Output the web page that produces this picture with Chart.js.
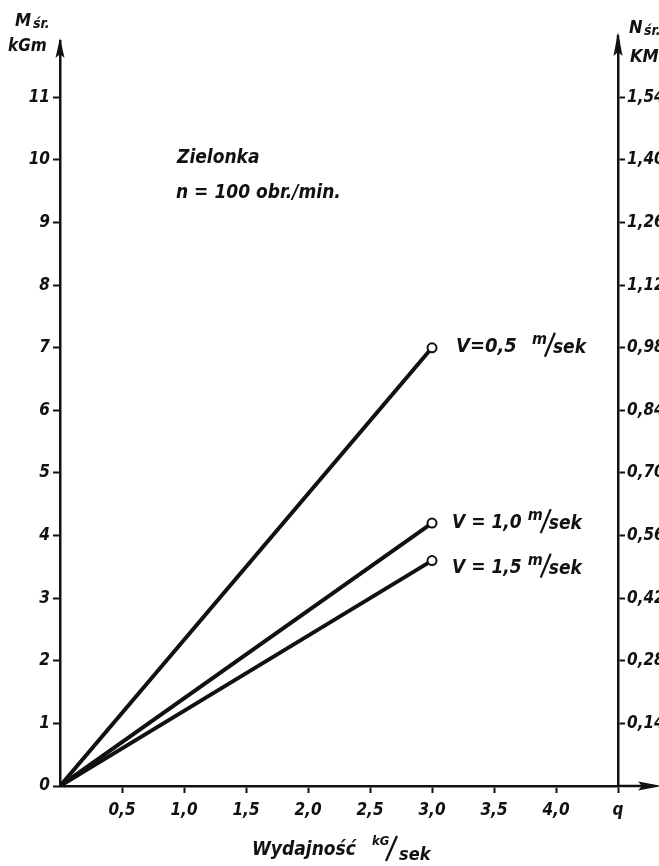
<!DOCTYPE html>
<html>
<head>
<meta charset="utf-8">
<script src="https://cdn.jsdelivr.net/npm/chart.js@4"></script>
<style>
  html, body { margin: 0; padding: 0; background: #fff; overflow: hidden; width: 659px; height: 866px; }
  #wrap { position: absolute; left: 0; top: 0; width: 684px; height: 866px; }
</style>
</head>
<body>
<div id="wrap"><canvas id="c" width="684" height="866"></canvas></div>
<script>
// Throughput q [kG/sek] at which torque was measured
const throughput = [0, 3.0];
// Mean torque M_śr [kGm] for each feed speed V
const torqueV05 = [0, 7.0];
const torqueV10 = [0, 4.2];
const torqueV15 = [0, 3.6];
const speedLabels = ['V=0,5', 'V = 1,0', 'V = 1,5'];
// Power scale: 1 kGm of torque at n = 100 obr./min corresponds to 0.14 KM
const powerPerTorque = 0.14;

const INK = '#111';
const FAMILY = '"DejaVu Sans Condensed", "Liberation Sans Narrow", "DejaVu Sans", sans-serif';
const font = (size) => `italic bold ${size}px ${FAMILY}`;
const comma = (v, d) => v.toFixed(d).replace('.', ',');

const Y_MAX = 11.9;

function series(values) {
  return throughput.map((q, i) => ({ x: q, y: values[i] }));
}

function lineDataset(values) {
  return {
    data: series(values),
    borderColor: INK,
    borderWidth: 4,
    borderCapStyle: 'round',
    pointRadius: [0, 4.5],
    pointHoverRadius: [0, 4.5],
    pointBackgroundColor: '#fff',
    pointBorderColor: INK,
    pointBorderWidth: 2,
    tension: 0
  };
}

function drawArrowUp(ctx, x, tipY, len, half) {
  ctx.beginPath();
  ctx.moveTo(x, tipY);
  ctx.lineTo(x + half, tipY + len);
  ctx.lineTo(x, tipY + len - 4);
  ctx.lineTo(x - half, tipY + len);
  ctx.closePath();
  ctx.fill();
}

function slash(ctx, x1, y1, x2, y2) {
  ctx.beginPath();
  ctx.moveTo(x1, y1);
  ctx.lineTo(x2, y2);
  ctx.stroke();
}

// "V = 0,5  m/sek" with a raised "m"
function drawSpeedLabel(ctx, x, y, lead, size, gap) {
  ctx.font = font(size);
  ctx.fillText(lead, x, y);
  let cx = x + ctx.measureText(lead).width + gap;
  ctx.font = font(16);
  ctx.fillText('m', cx, y - 8);
  cx += ctx.measureText('m').width - 2;
  ctx.lineWidth = 2.2;
  slash(ctx, cx + 10, y - 19, cx, y + 5);
  ctx.font = font(19);
  ctx.fillText('sek', cx + 8, y + 1);
}

const decorations = {
  id: 'decorations',
  afterDraw(chart) {
    const { ctx, chartArea, scales } = chart;
    const xs = scales.x, ys = scales.y;
    ctx.save();
    ctx.fillStyle = INK;
    ctx.strokeStyle = INK;
    ctx.lineWidth = 2.5;

    // vertical axis arrows
    drawArrowUp(ctx, chartArea.left, chartArea.top - 3, 20, 4.5);
    ctx.beginPath();
    ctx.moveTo(chartArea.right, chartArea.top);
    ctx.lineTo(chartArea.right, chartArea.top - 6);
    ctx.stroke();
    drawArrowUp(ctx, chartArea.right, chartArea.top - 9, 24, 4.5);

    // horizontal axis continues past the power axis
    ctx.beginPath();
    ctx.moveTo(chartArea.right, chartArea.bottom);
    ctx.lineTo(chartArea.right + 30, chartArea.bottom);
    ctx.stroke();
    ctx.beginPath();
    ctx.moveTo(chartArea.right + 44, chartArea.bottom);
    ctx.lineTo(chartArea.right + 20, chartArea.bottom - 4.5);
    ctx.lineTo(chartArea.right + 24, chartArea.bottom);
    ctx.lineTo(chartArea.right + 20, chartArea.bottom + 4.5);
    ctx.closePath();
    ctx.fill();

    ctx.textBaseline = 'alphabetic';
    ctx.textAlign = 'left';

    // left axis title: M_śr. / kGm
    ctx.font = font(18);
    ctx.fillText('M', 15, 26);
    ctx.font = font(14);
    ctx.fillText('śr.', 33, 28);
    ctx.font = font(17);
    ctx.fillText('kGm', 8, 51);

    // right axis title: N_śr. / KM
    ctx.font = font(18);
    ctx.fillText('N', 629, 33);
    ctx.font = font(14);
    ctx.fillText('śr.', 644, 35);
    ctx.font = font(18);
    ctx.fillText('KM', 630, 62);

    // bottom axis title: Wydajność kG/sek
    ctx.font = font(19);
    ctx.fillText('Wydajność', 252, 855);
    ctx.font = font(13);
    ctx.fillText('kG', 372, 845);
    ctx.lineWidth = 2.3;
    slash(ctx, 397, 836, 386, 861);
    ctx.font = font(18);
    ctx.fillText('sek', 399, 860);

    // test conditions
    ctx.font = font(19);
    ctx.fillText('Zielonka', 177, 163);
    ctx.fillText('n = 100 obr./min.', 176, 198);

    // speed labels next to each line's end point
    const ends = [torqueV05, torqueV10, torqueV15];
    const dy = [4, 5, 12];
    const dx = [24, 20, 20];
    const sizes = [20, 19, 19];
    const gaps = [15, 6, 6];
    ends.forEach((vals, i) => {
      const last = vals.length - 1;
      const px = xs.getPixelForValue(throughput[last]);
      const py = ys.getPixelForValue(vals[last]);
      drawSpeedLabel(ctx, px + dx[i], py + dy[i], speedLabels[i], sizes[i], gaps[i]);
    });

    ctx.restore();
  }
};

const tickFont = { family: FAMILY, size: 17, style: 'italic', weight: 'bold' };
const axisGrid = { display: true, drawOnChartArea: false, drawTicks: true, tickLength: 7, tickWidth: 2, color: INK };
const axisBorder = { display: true, color: INK, width: 2.5 };

new Chart(document.getElementById('c'), {
  type: 'line',
  data: {
    datasets: [lineDataset(torqueV05), lineDataset(torqueV10), lineDataset(torqueV15)]
  },
  plugins: [decorations],
  options: {
    responsive: false,
    animation: false,
    devicePixelRatio: 1,
    layout: { padding: { top: 41, left: 0, right: 0, bottom: 0 } },
    plugins: { legend: { display: false }, tooltip: { enabled: false } },
    scales: {
      x: {
        type: 'linear',
        min: 0,
        max: 4.5,
        ticks: {
          stepSize: 0.5,
          color: INK,
          font: tickFont,
          padding: 7,
          callback: (v) => (v >= 4.5 ? 'q' : comma(v, 1))
        },
        afterBuildTicks: (s) => { s.ticks = s.ticks.filter(t => t.value > 0); },
        afterFit: (s) => { s.height = 80; },
        grid: axisGrid,
        border: axisBorder
      },
      y: {
        position: 'left',
        min: 0,
        max: Y_MAX,
        ticks: { stepSize: 1, color: INK, font: tickFont, padding: 3, callback: (v) => String(v) },
        afterBuildTicks: (s) => { s.ticks = s.ticks.filter(t => t.value <= 11); },
        afterFit: (s) => { s.width = 60; },
        grid: axisGrid,
        border: axisBorder
      },
      power: {
        position: 'right',
        min: 0,
        max: Y_MAX * powerPerTorque,
        ticks: {
          stepSize: powerPerTorque,
          color: INK,
          font: tickFont,
          padding: 2,
          callback: (v) => comma(v, 2)
        },
        afterBuildTicks: (s) => { s.ticks = s.ticks.filter(t => t.value > 0.01 && t.value < 1.6); },
        afterFit: (s) => { s.width = 66; },
        grid: axisGrid,
        border: axisBorder
      }
    }
  }
});
</script>
</body>
</html>
